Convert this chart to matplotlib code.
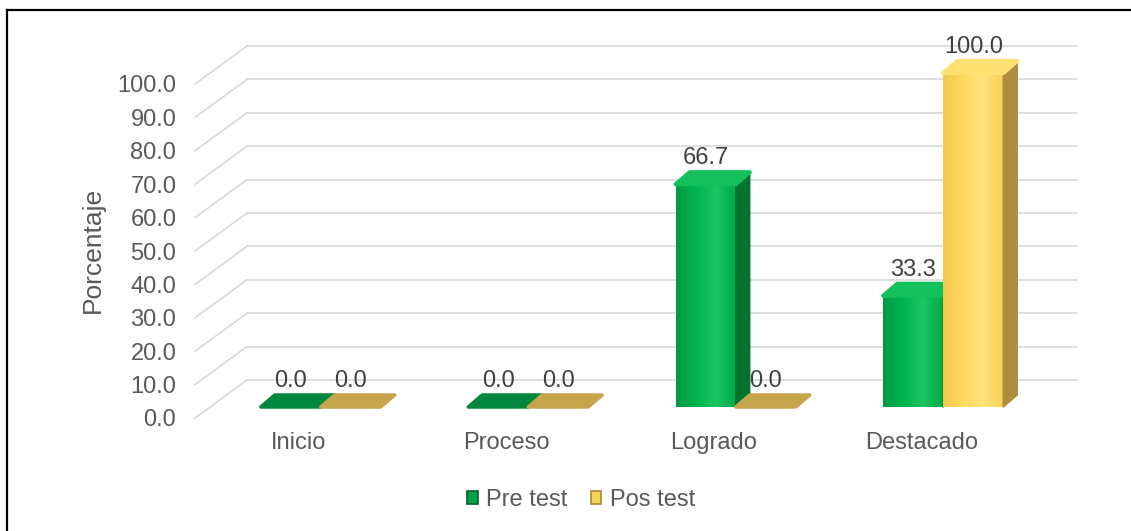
import numpy as np
import matplotlib
matplotlib.use('Agg')
import matplotlib.pyplot as plt
import matplotlib.transforms as mtransforms
from matplotlib.patches import Polygon, Patch
from matplotlib.colors import LinearSegmentedColormap
from matplotlib.lines import Line2D

## data

categories = ['Inicio', 'Proceso', 'Logrado', 'Destacado']
pre_test = [0.0, 0.0, 66.7, 33.3]
pos_test = [0.0, 0.0, 0.0, 100.0]
series_names = ['Pre test', 'Pos test']
yticks = np.arange(0, 101, 10)

plt.rcParams['font.family'] = ['Liberation Sans', 'DejaVu Sans']

W, H = 1131, 531
fig = plt.figure(figsize=(W/100, H/100), dpi=100)

# front plane of the fake 3d box (pixels)
left, right, bottom, top = 195, 1025, 418, 84
ax = fig.add_axes([left/W, 1-bottom/H, (right-left)/W, (bottom-top)/H])
ax.set_xlim(-0.5, 3.5)
ax.set_ylim(0, 100)
ax.set_autoscale_on(False)
ax.set_facecolor('none')
for s in ax.spines.values():
    s.set_visible(False)

def shifted(dx, dy):
    return ax.transData + mtransforms.ScaledTranslation(dx/100, dy/100, fig.dpi_scale_trans)

ident = mtransforms.IdentityTransform()
backShift = (52, 38)        # depth of the whole box
barShift = (22, 11)         # where the bar fronts stand
barDepth = (14, 12)         # depth of one bar
back = shifted(*backShift)
front = shifted(*barShift)

## gridlines (back wall + left wall)
gridColor = '#d9d9d9'
for v in yticks:
    ax.plot([-0.5, 3.5], [v, v], color=gridColor, lw=1.2, transform=back, zorder=0, clip_on=False)
    p = ax.transData.transform((-0.5, v))
    ax.plot([p[0], p[0]+backShift[0]], [p[1], p[1]+backShift[1]], color=gridColor,
            lw=1.2, transform=ident, zorder=0, clip_on=False)

## bars
bw = 60/207.5
styles = [
    dict(grad=['#009a40', '#00b44f', '#1cc462', '#00aa48'], side='#00742f', top='#14c05a', flat='#00873d'),
    dict(grad=['#f0c94f', '#ffd95e', '#ffe37c', '#f7d15a'], side='#ad8d3b', top='#ffe070', flat='#c6a54c'),
]

def pt(x, y, d=0.0):
    q = front.transform((x, y))
    return (q[0] + d*barDepth[0], q[1] + d*barDepth[1])

z = 3
for i, c in enumerate(range(len(categories))):
    for k, vals in enumerate([pre_test, pos_test]):
        v = vals[i]
        st = styles[k]
        x0 = c - bw + k*bw
        x1 = x0 + bw
        z += 1
        if v > 0:
            cmap = LinearSegmentedColormap.from_list('g%d' % k, st['grad'])
            grad = np.linspace(0, 1, 64).reshape(1, -1)
            ax.imshow(grad, extent=(x0, x1, 0, v), transform=front, cmap=cmap, aspect='auto',
                      interpolation='bilinear', zorder=z, clip_on=False)
            side = [pt(x1, 0), pt(x1, v), pt(x1, v, 1), pt(x1, 0, 1)]
            ax.add_patch(Polygon(side, closed=True, facecolor=st['side'], edgecolor=st['side'],
                                 lw=1, joinstyle='round', transform=ident, zorder=z, clip_on=False))
            topf = [pt(x0, v), pt(x1, v), pt(x1, v, 1), pt(x0, v, 1)]
            ax.add_patch(Polygon(topf, closed=True, facecolor=st['top'], edgecolor=st['top'],
                                 lw=3, joinstyle='round', transform=ident, zorder=z, clip_on=False))
        else:
            flat = [pt(x0, 0), pt(x1, 0), pt(x1, 0, 1), pt(x0, 0, 1)]
            ax.add_patch(Polygon(flat, closed=True, facecolor=st['flat'], edgecolor=st['flat'],
                                 lw=2.5, joinstyle='round', transform=ident, zorder=z, clip_on=False))
        ax.text((x0+x1)/2, v, '%.1f' % v, transform=shifted(barShift[0], barShift[1]+26),
                ha='center', va='center', fontsize=17, color='#404040', zorder=50, clip_on=False)

## axes text
ax.set_yticks(yticks, ['%.1f' % v for v in yticks])
ax.set_xticks(range(len(categories)), categories)
ax.tick_params(axis='y', length=0, pad=13.5, labelsize=17, labelcolor='#595959')
ax.tick_params(axis='x', length=0, pad=10, labelsize=17, labelcolor='#595959')
ax.set_ylabel('Porcentaje', fontsize=19, color='#595959', va='center')
ax.yaxis.set_label_coords((93-left)/(right-left), (bottom-250)/(bottom-top))

handles = [Patch(facecolor='#00a247', edgecolor='#00602a', lw=1.2),
           Patch(facecolor='#f5d35a', edgecolor='#a88a33', lw=1.2)]
fig.legend(handles, series_names, loc='center', bbox_to_anchor=(581/W, 1-500/H), ncol=2,
           frameon=False, fontsize=17, labelcolor='#595959', handlelength=0.45, handleheight=0.45,
           handletextpad=0.35, columnspacing=1.0)

## border (only top and left visible)
fig.add_artist(Line2D([7/W, 7/W], [0, 1-10/H], color='black', lw=1.6))
fig.add_artist(Line2D([7/W, 1], [1-10/H, 1-10/H], color='black', lw=1.6))

plt.savefig('out.png', dpi=100)
